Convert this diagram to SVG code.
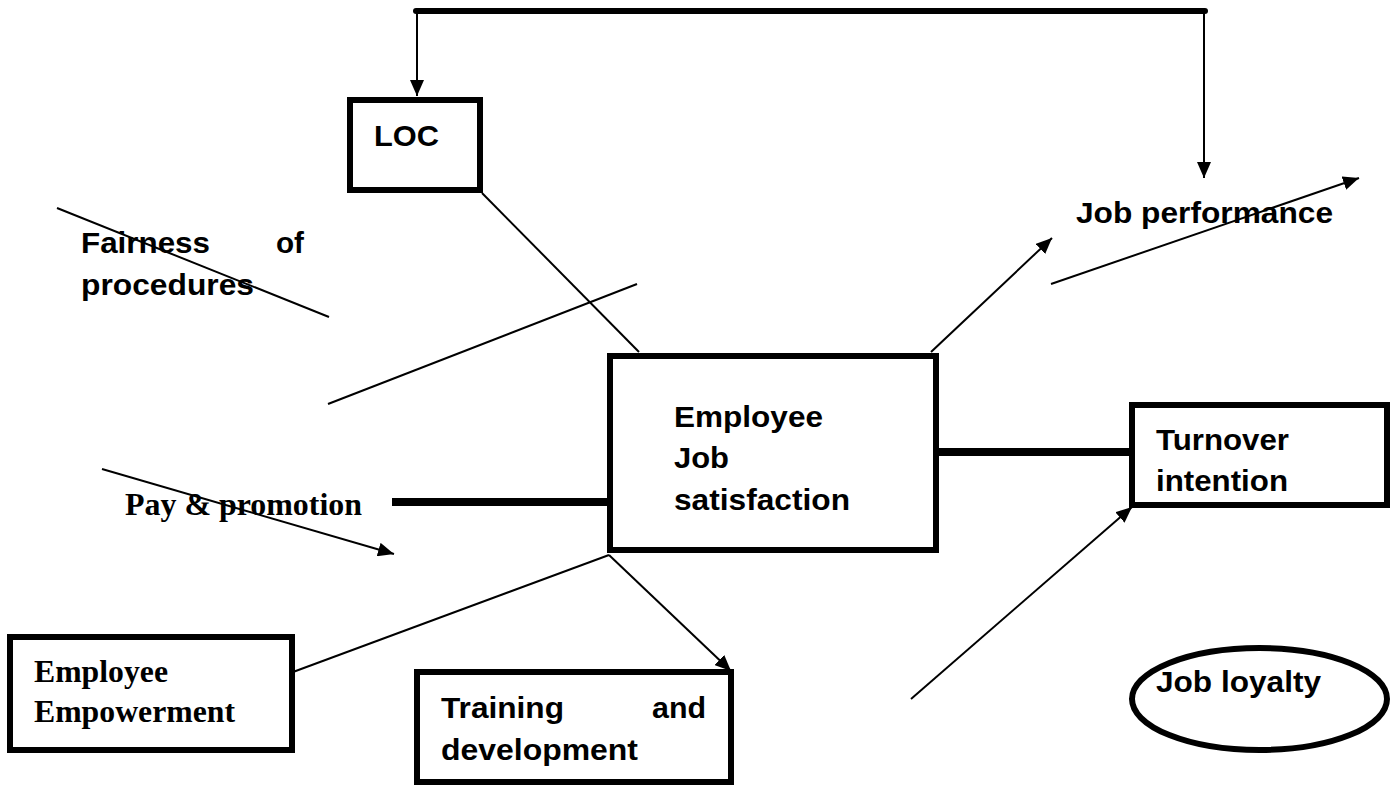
<svg xmlns="http://www.w3.org/2000/svg" width="1392" height="785" viewBox="0 0 1392 785">
<style>
.box{fill:#fff;stroke:#000;stroke-width:6}
.thin{stroke:#000;stroke-width:2;fill:none}
.thick{stroke:#000;fill:none}
.a{font-family:"Liberation Sans",Arial,sans-serif;font-weight:bold;font-size:30px;fill:#000}
.t{font-family:"Liberation Serif","Times New Roman",serif;font-weight:bold;font-size:31px;fill:#000}
</style>
<defs>
<marker id="arr" markerUnits="userSpaceOnUse" markerWidth="16" markerHeight="14" refX="16" refY="7" orient="auto">
<path d="M0,0 L16,7 L0,14 z" fill="#000"/>
</marker>
</defs>
<rect width="1392" height="785" fill="#fff"/>
<g id="connectors">
<line class="thick" x1="416" y1="11" x2="1205" y2="11" stroke-width="6" stroke-linecap="round"/>
<line class="thin" x1="417" y1="11" x2="417" y2="96" marker-end="url(#arr)"/>
<line class="thin" x1="1204" y1="11" x2="1204" y2="178" marker-end="url(#arr)"/>
<line class="thin" x1="931" y1="352" x2="1052" y2="238" marker-end="url(#arr)"/>
<line class="thin" x1="1051" y1="284" x2="1359" y2="178" marker-end="url(#arr)"/>
<line class="thin" x1="911" y1="699" x2="1132" y2="507" marker-end="url(#arr)"/>
<line class="thin" x1="609" y1="555" x2="731" y2="671" marker-end="url(#arr)"/>
<line class="thin" x1="102" y1="469" x2="394" y2="554" marker-end="url(#arr)"/>
<line class="thin" x1="57" y1="208" x2="329" y2="317"/>
<line class="thin" x1="482" y1="193" x2="639" y2="352"/>
<line class="thin" x1="637" y1="284" x2="328" y2="404"/>
<line class="thin" x1="293" y1="672" x2="609" y2="555"/>
<line class="thick" x1="392" y1="502" x2="610" y2="502" stroke-width="8"/>
<line class="thick" x1="936" y1="452" x2="1132" y2="452" stroke-width="8"/>
</g>
<g id="loc">
<rect class="box" x="350" y="100" width="130" height="90"/>
<text class="a" x="374" y="146" font-size="32" textLength="65" lengthAdjust="spacingAndGlyphs">LOC</text>
</g>
<g id="fairness">
<text class="a" x="81" y="253" textLength="129" lengthAdjust="spacingAndGlyphs">Fairness</text>
<text class="a" x="276" y="253" textLength="28" lengthAdjust="spacingAndGlyphs">of</text>
<text class="a" x="81" y="295" textLength="173" lengthAdjust="spacingAndGlyphs">procedures</text>
</g>
<g id="job-performance">
<text class="a" x="1076" y="223" textLength="257" lengthAdjust="spacingAndGlyphs">Job performance</text>
</g>
<g id="satisfaction">
<rect class="box" x="610" y="356" width="326" height="194"/>
<text class="a" x="674" y="427" textLength="149" lengthAdjust="spacingAndGlyphs">Employee</text>
<text class="a" x="674" y="468" textLength="55" lengthAdjust="spacingAndGlyphs">Job</text>
<text class="a" x="674" y="510" textLength="176" lengthAdjust="spacingAndGlyphs">satisfaction</text>
</g>
<g id="turnover">
<rect class="box" x="1132" y="405" width="255" height="100"/>
<text class="a" x="1156" y="450" textLength="133" lengthAdjust="spacingAndGlyphs">Turnover</text>
<text class="a" x="1156" y="491" textLength="132" lengthAdjust="spacingAndGlyphs">intention</text>
</g>
<g id="pay">
<text class="t" x="125" y="515" font-size="31" textLength="237" lengthAdjust="spacingAndGlyphs">Pay &amp; promotion</text>
</g>
<g id="empowerment">
<rect class="box" x="10" y="637" width="282" height="113"/>
<text class="t" x="34" y="682" textLength="134" lengthAdjust="spacingAndGlyphs">Employee</text>
<text class="t" x="34" y="722" textLength="201" lengthAdjust="spacingAndGlyphs">Empowerment</text>
</g>
<g id="training">
<rect class="box" x="417" y="672" width="314" height="110"/>
<text class="a" x="441" y="718" textLength="123" lengthAdjust="spacingAndGlyphs">Training</text>
<text class="a" x="652" y="718" textLength="54" lengthAdjust="spacingAndGlyphs">and</text>
<text class="a" x="441" y="760" textLength="197" lengthAdjust="spacingAndGlyphs">development</text>
</g>
<g id="loyalty">
<ellipse cx="1259.5" cy="699" rx="127.5" ry="51" fill="#fff" stroke="#000" stroke-width="6"/>
<text class="a" x="1156" y="692" textLength="165" lengthAdjust="spacingAndGlyphs">Job loyalty</text>
</g>
</svg>
